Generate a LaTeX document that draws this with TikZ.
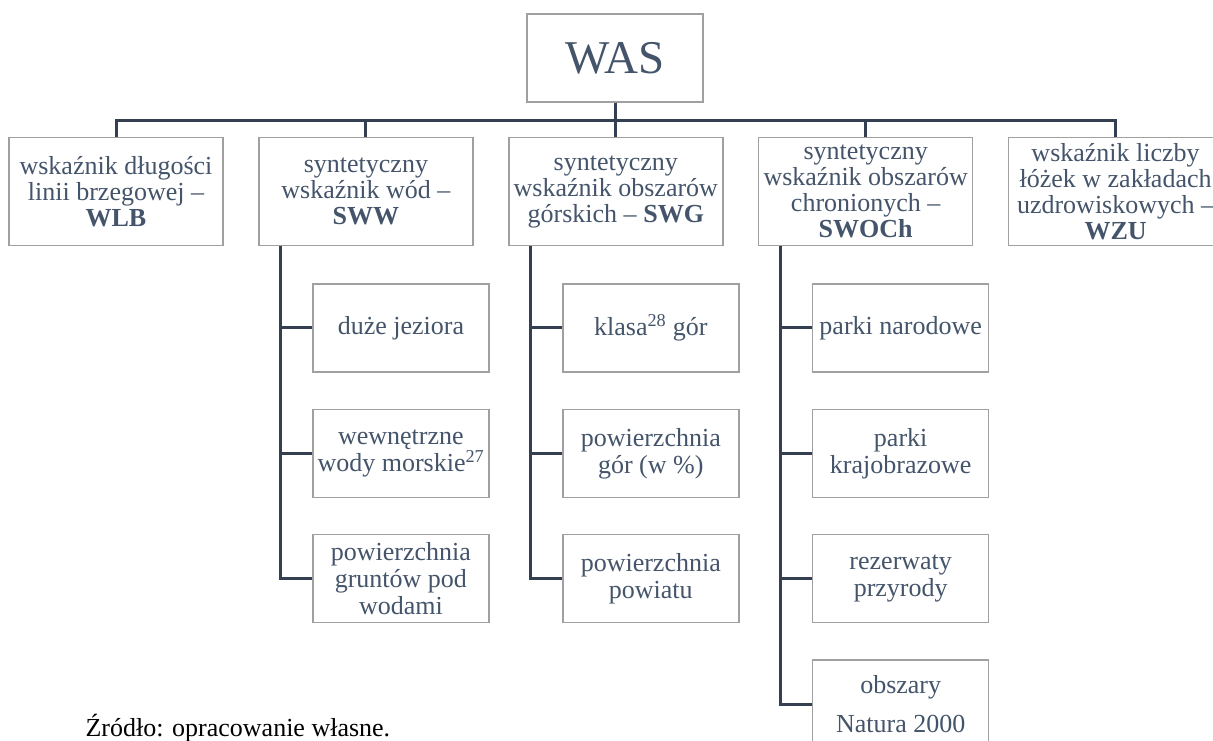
\documentclass[tikz,border=0pt]{standalone}
\usepackage{fontspec}
\setmainfont{Liberation Serif}
\usepackage{tikz}
\usetikzlibrary{positioning}
\definecolor{ink}{RGB}{68,84,106}
\definecolor{slate}{RGB}{52,64,82}
\definecolor{frame}{RGB}{160,160,160}
\tikzset{
  box/.style   ={rectangle, draw=frame, line width=1.4pt, fill=white, text=ink,
                 align=center, inner xsep=1pt, inner ysep=0pt},
  topb/.style  ={box, minimum width=176pt, minimum height=88pt, font=\fontsize{47}{48}\selectfont},
  mainb/.style ={box, minimum width=214pt, minimum height=108pt, font=\fontsize{26}{26}\selectfont},
  subb/.style  ={box, minimum width=176pt, minimum height=88pt, font=\fontsize{26}{27}\selectfont},
  ln/.style    ={draw=slate, line width=3pt},
}
\begin{document}
\begin{tikzpicture}[node distance=36pt]
\useasboundingbox (0pt,0pt) rectangle (1213pt,-740pt);
\node[topb] (was) at (615pt,-58pt) {WAS};
\node[mainb] (wlb) at (116pt,-191.5pt) {wskaźnik długości\\linii brzegowej –\\\textbf{WLB}};
\node[mainb, right=34.5pt of wlb]   (sww)   {syntetyczny\\wskaźnik wód –\\\textbf{SWW}};
\node[mainb, right=34.5pt of sww]   (swg)   {syntetyczny\\wskaźnik obszarów\\górskich – \textbf{SWG}};
\node[mainb, right=34.5pt of swg]   (swoch) {syntetyczny\\wskaźnik obszarów\\chronionych –\\\textbf{SWOCh}};
\node[mainb, right=34.5pt of swoch] (wzu)   {wskaźnik liczby\\łóżek w zakładach\\uzdrowiskowych –\\\textbf{WZU}};
% wody
\node[subb, below right=37pt and 54pt of sww.south west] (jez) {duże jeziora};
\node[subb, below=of jez] (wew) {wewnętrzne\\wody morskie\textsuperscript{27}};
\node[subb, below=of wew] (pgw) {powierzchnia\\gruntów pod\\wodami};
% gory
\node[subb, below right=37pt and 54pt of swg.south west] (kla) {klasa\textsuperscript{28} gór};
\node[subb, below=of kla] (pgo) {powierzchnia\\gór (w \%)};
\node[subb, below=of pgo] (ppo) {powierzchnia\\powiatu};
% obszary chronione
\node[subb, below right=37pt and 54pt of swoch.south west] (pna) {parki narodowe};
\node[subb, below=of pna] (pkr) {parki\\krajobrazowe};
\node[subb, below=of pkr] (rez) {rezerwaty\\przyrody};
\node[subb, below=of rez] (nat) {obszary\\[12pt]Natura 2000};
\node[font=\fontsize{26}{26}\selectfont, anchor=base west] (src) at (82pt,-736pt) {Źródło: opracowanie własne.};
% lines
\coordinate[below=18pt of was.south] (bus);
\foreach \n in {wlb,sww,swg,swoch,wzu} \draw[ln] (was.south) -- (bus) -| (\n.north);
\coordinate[right=22.5pt of sww.south west] (swwT);
\coordinate[right=22.5pt of swg.south west] (swgT);
\coordinate[right=22.5pt of swoch.south west] (swochT);
\foreach \s in {jez,wew,pgw} \draw[ln] (swwT) |- (\s.west);
\foreach \s in {kla,pgo,ppo} \draw[ln] (swgT) |- (\s.west);
\foreach \s in {pna,pkr,rez,nat} \draw[ln] (swochT) |- (\s.west);
\end{tikzpicture}
\end{document}
